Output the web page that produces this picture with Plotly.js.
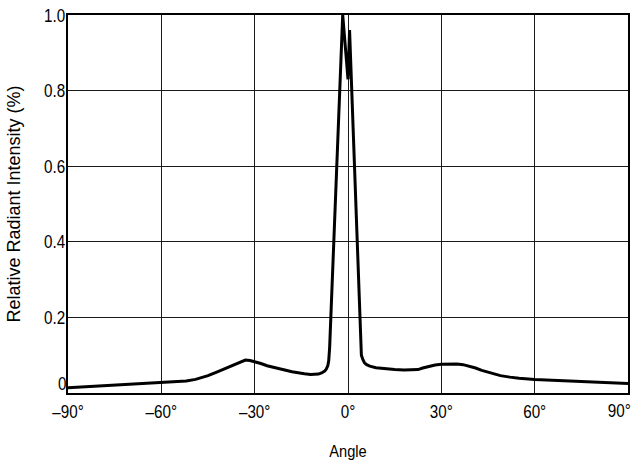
<!DOCTYPE html>
<html>
<head>
<meta charset="utf-8">
<script src="https://cdn.plot.ly/plotly-3.0.1.min.js"></script>
<style>html,body{margin:0;padding:0;background:#fff;}#chart{width:636px;height:466px;}</style>
</head>
<body>
<div id="chart"></div>
<script>
var angle = [-90, -75, -60, -52, -49, -45, -42, -39, -36, -34, -33, -31.5, -30, -28, -26, -23, -20, -18, -16, -14, -12, -11, -9.5, -8.5, -7.5, -7, -6.5, -6.2, -5.9, -1.7, 0, 0.5, 4.3, 4.8, 5.3, 6, 7, 9, 12, 15, 18, 21, 22.5, 24, 26, 28, 30, 32.5, 35, 37, 39, 41, 43, 45, 47, 49, 52, 55, 60, 70, 80, 90];
var intensity = [0.014, 0.021, 0.027, 0.032, 0.036, 0.046, 0.056, 0.066, 0.077, 0.084, 0.087, 0.086, 0.083, 0.078, 0.072, 0.065, 0.060, 0.056, 0.053, 0.051, 0.049, 0.049, 0.050, 0.053, 0.058, 0.063, 0.072, 0.085, 0.12, 1.0, 0.83, 0.96, 0.10, 0.088, 0.080, 0.075, 0.071, 0.067, 0.064, 0.062, 0.061, 0.061, 0.062, 0.066, 0.071, 0.074, 0.076, 0.077, 0.077, 0.075, 0.071, 0.066, 0.060, 0.055, 0.050, 0.046, 0.042, 0.039, 0.036, 0.032, 0.029, 0.025];
var xTickVals = [-90, -60, -30, 0, 30, 60, 90];
var xTickText = ['\u201390\u00b0', '\u201360\u00b0', '\u201330\u00b0', '0\u00b0', '30\u00b0', '60\u00b0', ''];
var xLastLabel = '90\u00b0';
var yTickVals = [0, 0.2, 0.4, 0.6, 0.8, 1.0];
var yTickText = ['', '0.2', '0.4', '0.6', '0.8', '1.0'];
var yZeroLabel = '0';

var FONT = '"Liberation Sans", Arial, Helvetica, sans-serif';
var TICK = 19;

var trace = {
  x: angle, y: intensity, type: 'scatter', mode: 'lines',
  line: {color: '#000', width: 3}, hoverinfo: 'skip'
};

var layout = {
  width: 636, height: 466,
  margin: {l: 68, r: 8, t: 15, b: 72.5},
  paper_bgcolor: '#fff', plot_bgcolor: '#fff',
  showlegend: false,
  font: {family: FONT, color: '#000', size: TICK},
  xaxis: {
    range: [-90, 90], tickvals: xTickVals, ticktext: xTickText,
    showgrid: true, gridcolor: '#1a1a1a', gridwidth: 1,
    showline: true, linecolor: '#000', linewidth: 2, mirror: true,
    ticks: '', zeroline: false,
    tickfont: {family: FONT, size: TICK, color: '#000'},
    title: {text: 'Angle', font: {family: FONT, size: 17, color: '#000'}, standoff: 24}
  },
  yaxis: {
    range: [0, 1], tickvals: yTickVals, ticktext: yTickText,
    showgrid: true, gridcolor: '#1a1a1a', gridwidth: 1,
    showline: true, linecolor: '#000', linewidth: 2, mirror: true,
    ticks: '', zeroline: false, ticklabelstandoff: -3,
    tickfont: {family: FONT, size: TICK, color: '#000'},
    title: {text: 'Relative Radiant Intensity (%)', font: {family: FONT, size: 18, color: '#000'}, standoff: 13}
  },
  annotations: [{
    x: 0, y: 0, xref: 'paper', yref: 'y', text: yZeroLabel, showarrow: false,
    xanchor: 'right', yanchor: 'middle', xshift: 2, yshift: 10,
    font: {family: FONT, size: TICK, color: '#000'}
  }, {
    x: 1, y: 0, xref: 'paper', yref: 'paper', text: xLastLabel, showarrow: false,
    xanchor: 'right', yanchor: 'top', xshift: 8, yshift: -5,
    font: {family: FONT, size: TICK, color: '#000'}
  }]
};

function condense(gd, sel, f) {
  gd.querySelectorAll(sel).forEach(function (t) {
    var w = t.getComputedTextLength();
    if (w > 0) {
      t.setAttribute('textLength', (w * f).toFixed(2));
      t.setAttribute('lengthAdjust', 'spacingAndGlyphs');
    }
  });
}

Plotly.newPlot('chart', [trace], layout, {staticPlot: true, displayModeBar: false}).then(function (gd) {
  condense(gd, '.xtick text, .ytick text, .annotation-text', 0.8);
  condense(gd, '.g-xtitle text', 0.86);
});
</script>
</body>
</html>
